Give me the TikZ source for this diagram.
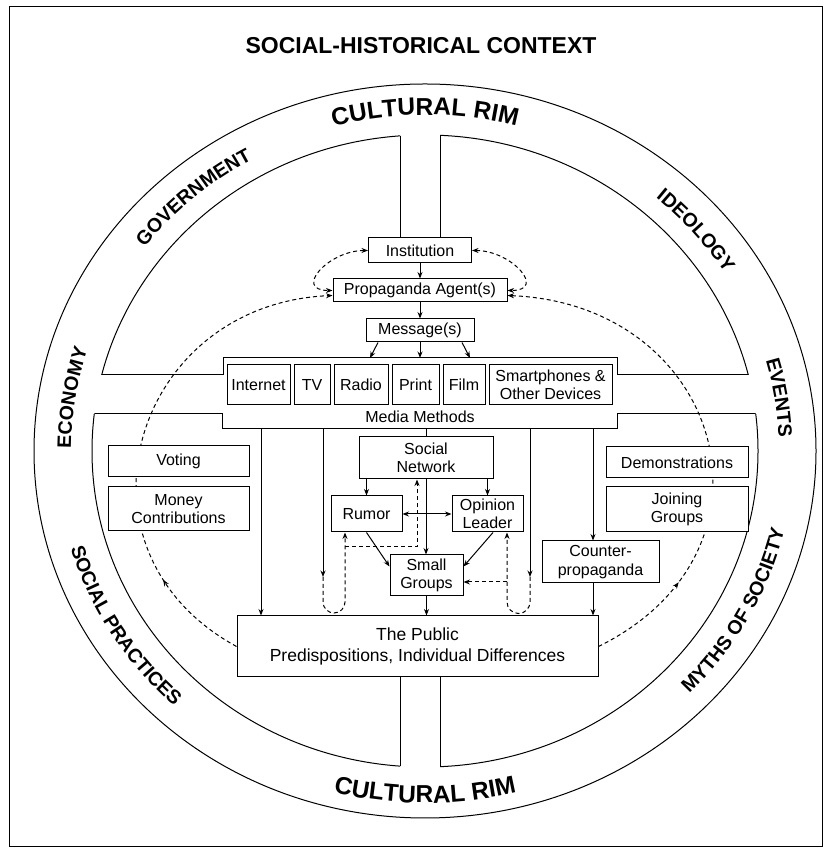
\documentclass[tikz,border=0pt]{standalone}
\usepackage{fontspec}
\setmainfont{Liberation Sans}
\usepackage{tikz}
\usetikzlibrary{arrows.meta,positioning,calc,backgrounds,decorations.text,decorations.markings}
\newcommand\pmbox{\fontsize{16}{18.5}\selectfont}
\newcommand\pmbig{\fontsize{17.5}{20.5}\selectfont}
\newcommand\pmtitle{\bfseries\fontsize{23}{26}\selectfont}
\newcommand\pmrim{\bfseries\fontsize{19.5}{22}\selectfont}
\newcommand\pmrimbig{\bfseries\fontsize{24.5}{27}\selectfont}
% rim label: x radius, y radius, start angle, end angle, font, text
\newcommand\rimtext[6]{%
  \path[decorate, decoration={text along path, text align=center, text={|#5|#6}}]
    (ctr) ++(#3:#1 and #2) arc[start angle=#3, end angle=#4, x radius=#1, y radius=#2];}
\tikzset{
  pm/box/.style={draw, fill=white, align=center, inner sep=1pt, font=\pmbox},
  pm/arr/.style={-{Stealth[length=6.5pt, width=5pt]}},
  pm/arr2/.style={{Stealth[length=6.5pt, width=5pt]}-{Stealth[length=6.5pt, width=5pt]}},
  pm/darr/.style={pm/arr, dash pattern=on 4pt off 3pt},
  pm/darr2/.style={pm/arr2, dash pattern=on 4pt off 3pt},
  pm/mid/.style={postaction={decorate, decoration={markings,
      mark=at position #1 with {\arrow{Stealth[length=6.5pt, width=5pt]}}}}}
}

\begin{document}
\begin{tikzpicture}[x=1pt, y=1pt, line width=1pt]
  \useasboundingbox (0,0) rectangle (829,850);
  \draw (9,3) rectangle (822,843);
  \node[font=\pmtitle] (title) at (421,804) {SOCIAL-HISTORICAL CONTEXT};

  % --- Rim ---
  \coordinate (ctr) at (425,399);
  \draw (ctr) ellipse [x radius=391, y radius=367];
  \draw (ctr) ellipse [x radius=333, y radius=316];
  \fill[white] (400,700) rectangle (440,730);
  \fill[white] (400,70) rectangle (440,100);
  \fill[white] (80,436) rectangle (115,475);
  \fill[white] (735,436) rectangle (770,475);
  \begin{scope}
    \clip (ctr) ellipse [x radius=333, y radius=316];
    \draw (400,612) -- (400,760);
    \draw (440,612) -- (440,760);
    \draw (60,475) -- (223,475) -- (223,492) -- (617,492) -- (617,475) -- (790,475);
    \draw (60,436) -- (222,436) -- (222,421) -- (617,421) -- (617,436) -- (790,436);
    \draw (400,173) -- (400,40);
    \draw (440,173) -- (440,40);
  \end{scope}

  \rimtext{356}{336}{120}{60}{\pmrimbig}{CULTURAL RIM}
  \rimtext{374}{352}{240}{300}{\pmrimbig}{CULTURAL RIM}
  \rimtext{354}{334}{155}{107}{\pmrim}{GOVERNMENT}
  \rimtext{354}{334}{62}{19}{\pmrim}{IDEOLOGY}
  \rimtext{354}{334}{190}{152}{\pmrim}{ECONOMY}
  \rimtext{354}{334}{28}{-10}{\pmrim}{EVENTS}
  \rimtext{369}{348}{185}{238}{\pmrim}{SOCIAL PRACTICES}
  \rimtext{369}{348}{305}{358}{\pmrim}{MYTHS OF SOCIETY}

  % --- Source ---
  \node[pm/box, minimum width=103pt, minimum height=25pt] (inst) at (420,599.5) {Institution};
  \node[pm/box, minimum width=174pt, minimum height=23pt] (agent) at (420,559.5) {Propaganda Agent(s)};
  \node[pm/box, minimum width=108pt, minimum height=23pt] (msg) at (420,519.5) {Message(s)};

  % --- Media Methods ---
  \coordinate (bartop) at (420,492);
  \node[pm/box, minimum width=63pt, minimum height=40pt] (internet) at (258.5,465) {Internet};
  \node[pm/box, minimum width=36pt, minimum height=40pt] (tv) at (312,465) {TV};
  \node[pm/box, minimum width=54pt, minimum height=40pt] (radio) at (361,465) {Radio};
  \node[pm/box, minimum width=47pt, minimum height=40pt] (print) at (415.5,465) {Print};
  \node[pm/box, minimum width=42pt, minimum height=40pt] (film) at (464,465) {Film};
  \node[pm/box, minimum width=123pt, minimum height=40pt] (phones) at (550.5,465) {Smartphones \&\\Other Devices};
  \node[font=\pmbox] (mmlabel) at (420,433) {Media Methods};

  % --- Social level ---
  \node[pm/box, minimum width=134pt, minimum height=42pt] (sn) at (426,392) {Social\\Network};
  \node[pm/box, minimum width=71pt, minimum height=36pt] (rumor) at (366.5,336) {Rumor};
  \node[pm/box, minimum width=71pt, minimum height=36pt] (opinion) at (487.5,336) {Opinion\\Leader};
  \node[pm/box, minimum width=73pt, minimum height=41pt] (sg) at (426.5,274.5) {Small\\Groups};
  \node[pm/box, minimum width=117pt, minimum height=42pt] (counter) at (600.5,288) {Counter-\\propaganda};
  \node[pm/box, minimum width=361pt, minimum height=61pt, font=\pmbig] (pub) at (417.5,203.5)
    {The Public\\Predispositions, Individual Differences};

  % --- Behaviours ---
  \node[pm/box, minimum width=141pt, minimum height=31pt] (voting) at (178.5,388.5) {Voting};
  \node[pm/box, minimum width=141pt, minimum height=44pt] (money) at (178.5,341) {Money\\Contributions};
  \node[pm/box, minimum width=142pt, minimum height=31pt] (demo) at (677,387.5) {Demonstrations};
  \node[pm/box, minimum width=142pt, minimum height=45pt] (join) at (677,340.5) {Joining\\Groups};

  % --- Connectors ---
  \draw[pm/arr] (inst) -- (agent);
  \draw[pm/arr] (agent) -- (msg);
  \draw[pm/arr] ([xshift=-42pt]msg.south) -- ([xshift=-50pt]bartop);
  \draw[pm/arr] (msg.south) -- (bartop);
  \draw[pm/arr] ([xshift=42pt]msg.south) -- ([xshift=50pt]bartop);
  \draw[pm/darr2] (inst.west) to[out=180, in=180, looseness=1.9] (agent.west);
  \draw[pm/darr2] (inst.east) to[out=0, in=0, looseness=1.9] (agent.east);

  \coordinate (d1) at (261,421);
  \coordinate (d2) at (323,421);
  \coordinate (d3) at (426,421);
  \coordinate (d4) at (530,421);
  \coordinate (d5) at (593,421);
  \coordinate (u1) at (323,273);
  \coordinate (u2) at (530,273);
  \coordinate (j1) at (345,303);
  \coordinate (j2) at (507,268);

  \draw[pm/arr] (d1) -- (d1 |- pub.north);
  \draw[pm/arr] (d2) -- (u1);
  \draw (d3) -- (sn.north);
  \draw[pm/arr] (d4) -- (u2);
  \draw[pm/arr] (d5) -- (d5 |- counter.north);
  \draw[pm/arr] (d5 |- counter.south) -- (d5 |- pub.north);

  \draw[pm/arr] (sn.south) -- (sn.south |- sg.north);
  \draw[pm/arr] (sn.south -| rumor) -- (rumor.north);
  \draw[pm/arr] (sn.south -| opinion) -- (opinion.north);
  \draw[pm/arr2] (rumor) -- (opinion);
  \draw[pm/arr] (rumor.south) -- ([yshift=-12pt]sg.north west);
  \draw[pm/arr] ([xshift=5.5pt]opinion.south) -- ([yshift=-12pt]sg.north east);
  \draw[pm/arr] (sg.south) -- (sg.south |- pub.north);

  \draw[pm/darr] (u1) -- ++(0,-25) arc[start angle=180, end angle=360, radius=11]
    -- ([xshift=-21.5pt]rumor.south);
  \draw[pm/darr] (j1) -| ([xshift=-9pt]sn.south);
  \draw[pm/darr] (u2) -- ++(0,-25) arc[start angle=0, end angle=-180, radius=11.5]
    -- ([xshift=19.5pt]opinion.south);
  \draw[pm/darr] (j2) -- (j2 -| sg.east);

  \begin{scope}[on background layer]
    \draw[line width=1pt, pm/darr, pm/mid=0.2] (pub.west) .. controls (60,300) and (132,546)
      .. ([yshift=-5pt]agent.west);
    \draw[line width=1pt, pm/darr, pm/mid=0.2] (pub.east) .. controls (794,300) and (722,546)
      .. ([yshift=-5pt]agent.east);
  \end{scope}
\end{tikzpicture}
\end{document}
